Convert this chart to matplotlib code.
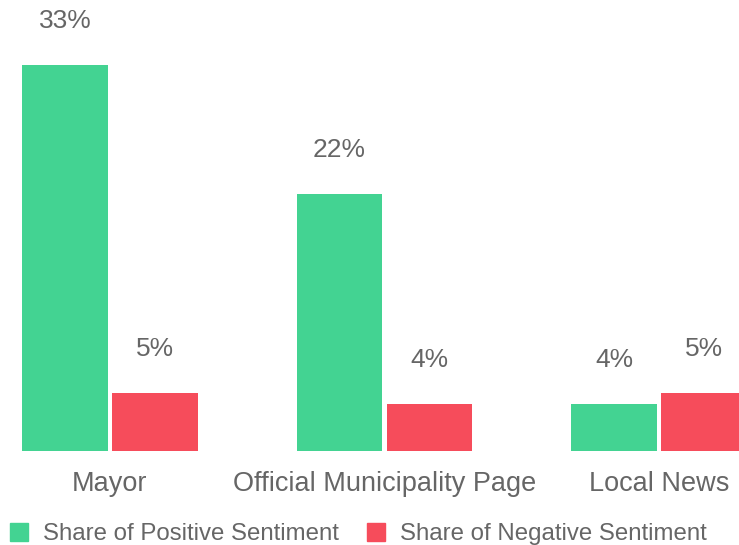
import matplotlib
matplotlib.use("Agg")
import matplotlib.pyplot as plt
from matplotlib.patches import Patch
import numpy as np

categories = ["Mayor", "Official Municipality Page", "Local News"]
positive = [33, 22, 4]
negative = [5, 4, 5]
series_names = ["Share of Positive Sentiment", "Share of Negative Sentiment"]

GREEN = "#43d392"
RED = "#f64c5b"
TEXT = "#666666"

plt.rcParams["font.family"] = ["Liberation Sans", "DejaVu Sans"]

fig = plt.figure(figsize=(7.39, 5.45), dpi=100)
ax = fig.add_axes([0, 94 / 545, 1, 451 / 545])

x = np.arange(len(categories))
width = 0.313
gap = 0.0146
offset = width / 2 + gap / 2

bars_pos = ax.bar(x - offset, positive, width, color=GREEN, zorder=2)
bars_neg = ax.bar(x + offset, negative, width, color=RED, zorder=2)

for bars, vals in ((bars_pos, positive), (bars_neg, negative)):
    for b, v in zip(bars, vals):
        ax.text(b.get_x() + b.get_width() / 2, v + 3.75, f"{v}%",
                ha="center", va="center", fontsize=19, color=TEXT)

ax.set_xlim(-0.4007, 2.2914)
ax.set_ylim(0, 451 / 11.69)
ax.axis("off")

for xi, name in zip(x, categories):
    ax.text(xi, -2.8, name, ha="center", va="center", fontsize=19.5,
            color=TEXT, clip_on=False)

handles = [Patch(color=GREEN), Patch(color=RED)]
fig.legend(handles, series_names, loc="lower left", bbox_to_anchor=(-0.012, -0.036),
           ncol=2, frameon=False, fontsize=17.3, labelcolor=TEXT,
           handlelength=0.75, handleheight=0.75, handletextpad=0.62,
           columnspacing=1.17, borderpad=0.3)

fig.savefig("out.png", dpi=100, facecolor="white")
